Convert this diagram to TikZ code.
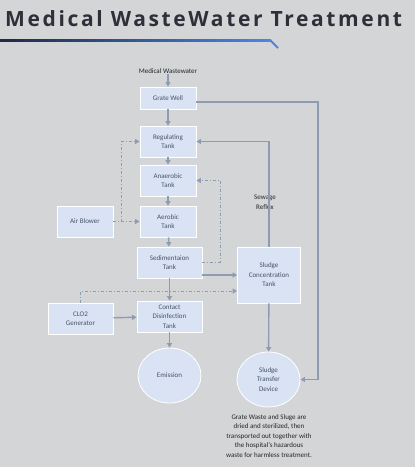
\documentclass[tikz,border=0pt]{standalone}
\usepackage{fontspec}
\setmainfont{Carlito}
\newfontfamily\titlefont[LetterSpace=12.5]{Open Sans}
\usetikzlibrary{arrows.meta,calc,shapes.geometric}

\definecolor{bgc}{HTML}{D4D5D7}
\definecolor{boxfill}{HTML}{DAE3F3}
\definecolor{boxtext}{HTML}{44546A}
\definecolor{linec}{HTML}{8E9CB2}
\definecolor{titlec}{HTML}{2E2F38}
\definecolor{navyc}{HTML}{1F2A44}
\definecolor{bluec}{HTML}{4A86E8}

\begin{document}
\begin{tikzpicture}[x=1pt,y=-1pt,
    box/.style={draw=white,line width=0.8pt,fill=boxfill,text=boxtext,align=center,
      font=\fontsize{7}{9.5}\selectfont,inner sep=1pt,minimum width=56pt,minimum height=31pt},
    blob/.style={box,ellipse,minimum width=63pt,minimum height=55pt},
    note/.style={align=center,text=black!85,font=\fontsize{7}{9.5}\selectfont,inner sep=0pt},
    flow/.style={draw=linec,line width=1.4pt,-{Triangle[length=4.5pt,width=5pt]}},
    reflux/.style={draw=linec,line width=0.9pt,dash pattern=on 3pt off 2pt on 1pt off 2pt,
      -{Triangle[length=4.5pt,width=5pt]}}]

    \fill[bgc] (0,0) rectangle (415,467);

    % title
    \node[anchor=west,inner sep=0pt,text=titlec,font=\titlefont\bfseries\fontsize{21}{24}\selectfont] (title) at (5,19) {Medical WasteWater Treatment};
    \shade[left color=navyc,right color=bluec] (0,39) rectangle (271,41);
    \draw[bluec,line width=2pt] (270,40) -- (278,48);

    % stations
    \node[note] (mw) at (168,71) {Medical Wastewater};
    \node[box,minimum height=22pt] (grate) at (168,98) {Grate Well};
    \node[box] (regu) at (168,141.5) {Regulating\\Tank};
    \node[box] (anaer) at (168,180.5) {Anaerobic\\Tank};
    \node[box] (aer) at (168,221.5) {Aerobic\\Tank};
    \node[box] (blower) at (85,221.5) {Air Blower};
    \node[box,minimum width=65pt] (sedi) at (169.5,262.5) {Sedimentaion\\Tank};
    \node[box,minimum width=65pt] (clo) at (80.5,318.5) {CLO2\\Generator};
    \node[box,minimum width=65pt] (contact) at (169.5,316.5) {Contact\\Disinfection\\Tank};
    \node[blob] (emis) at (169.5,375.5) {Emission};
    \node[box,minimum width=63pt,minimum height=56pt] (conc) at (269,275) {Sludge\\Concentration\\Tank};
    \node[blob] (transfer) at (268.5,379.5) {Sludge\\Transfer\\Device};
    \node[note] (reflux) at (265,202) {Sewage\\Reflux};
    \node[note] (remark) at (269,436) {Grate Waste and Sluge are\\dried and sterilized, then\\transported out together with\\the hospital's hazardous\\waste for harmless treatment.};

    \coordinate (rightx) at (318,0);
    \coordinate (leftx) at (121,0);
    \coordinate (midx) at (220,0);
    \coordinate (cloy) at (0,291);
    \coordinate (gratey) at (0,102);

    % main line
    \draw[flow] (mw) -- (grate);
    \draw[flow] (grate) -- (regu);
    \draw[flow] (regu) -- (anaer);
    \draw[flow] (anaer) -- (aer);
    \draw[flow] (aer) -- (sedi);
    \draw[flow] (sedi) -- (contact);
    \draw[flow] (contact) -- (emis);
    \draw[flow] (clo) -- (contact);
    \draw[flow] (sedi.east |- conc.west) -- (conc.west);
    \draw[flow] (conc) -- (transfer);
    \draw[flow] (conc.north) |- (regu.east);
    \draw[flow] (grate.east |- gratey) -| (rightx |- transfer.east) -- (transfer.east);

    % dash-dot lines
    \draw[reflux] (blower) -- (aer);
    \draw[reflux] (leftx |- aer) |- (regu.west);
    \draw[reflux] (sedi.east) -| (midx |- anaer.east) -- (anaer.east);
    \draw[reflux] (clo.north) |- (conc.west |- cloy);
\end{tikzpicture}
\end{document}
